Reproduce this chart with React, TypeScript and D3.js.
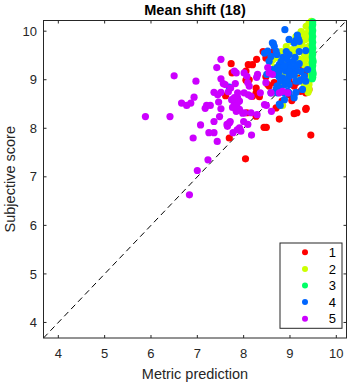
import React from "react";
import * as d3 from "d3";

const title = "Mean shift (18)";
const xLabel = "Metric prediction";
const yLabel = "Subjective score";
const ticks = [4, 5, 6, 7, 8, 9, 10];
const axisMin = 3.68;
const axisMax = 10.22;
const groupNames = ["1", "2", "3", "4", "5"];
const groupColors = ["#ff0000", "#ccff00", "#00ff66", "#0066ff", "#cc00ff"];

const redX = [7.73,7.75,8.10,8.28,8.42,8.65,8.48,7.61,8.19,8.27,8.34,8.52,8.55,9.04,9.15,9.09,9.35,8.77,8.44,8.49,7.69,9.45,9.05,9.09,9.13,8.98,9.41,9.38,8.05,8.07,8.27,8.70,9.23,8.05,8.12,9.27,9.20,9.34,9.38,9.31,8.04,8.66,8.19,8.48,9.34,9.34,8.83,8.27,8.92,8.98,9.15];
const redY = [9.33,9.14,9.31,9.42,9.58,9.58,9.45,8.67,8.66,8.73,8.65,8.90,8.87,8.57,8.32,8.30,8.41,8.19,8.02,8.02,7.80,7.86,8.90,8.87,8.94,9.00,8.80,8.83,8.99,8.32,8.25,8.42,8.76,9.18,9.00,9.31,9.21,9.18,9.07,8.97,7.37,8.94,9.31,9.06,8.73,8.39,8.56,8.83,9.38,8.69,9.11];

const yellowX = [8.60,8.72,8.81,8.92,9.03,9.13,9.24,9.35,9.41,9.46,8.88,9.03,9.15,9.26,9.33,9.39,9.20,9.31,9.37,9.09,9.20,9.31,9.41,8.98,8.77,8.88,9.41,9.46,9.37,9.46,9.46,9.20,9.31,9.41,8.67,8.88,8.84,9.41,9.39,8.64,8.67,9.43,9.43,9.43,9.00,9.10,9.25,9.30,9.35,9.20,9.05,9.42,9.42,9.42];
const yellowY = [9.38,9.46,9.58,9.68,9.79,9.89,9.99,10.10,10.16,10.20,9.42,9.52,9.62,9.73,9.83,9.93,9.42,9.52,9.66,9.25,9.17,9.31,9.42,9.21,9.25,9.11,9.21,9.11,9.00,9.62,9.83,9.00,8.90,8.90,9.11,8.90,8.47,8.80,8.74,9.42,9.25,10.03,9.29,9.00,9.35,9.55,9.85,9.40,9.95,9.70,9.62,9.55,9.70,9.90];

const greenX = [9.49,9.49,9.48,9.49,9.48,9.49,9.48,9.49,9.48,9.49,9.48,9.49,9.48,9.49,9.48,9.49,9.48,9.49,9.48,9.49,9.48,9.50,9.50];
const greenY = [10.19,10.13,10.07,10.01,9.95,9.89,9.83,9.77,9.71,9.65,9.59,9.53,9.47,9.41,9.35,9.29,9.23,9.17,9.11,9.05,9.02,9.37,9.12];

const blueX = [8.89,8.64,8.70,8.92,7.69,9.16,9.13,9.18,9.34,8.77,8.79,8.73,8.70,9.13,9.27,8.95,8.88,9.23,9.34,8.80,8.95,8.90,9.20,8.72,8.80,8.59,8.73,8.98,8.98,9.09,9.20,8.62,8.66,8.45,8.52,8.59,8.77,8.84,8.91,8.98,9.05,9.13,8.98,8.84,8.70,8.62,8.91,9.13,9.31,9.38,8.72,8.85,8.98,9.11,9.20,8.81,8.94,9.07,9.20,8.72,8.88,9.03,9.15,8.77,8.98,9.09,8.77,8.55,8.50,9.24,8.98,9.09,8.88];
const blueY = [10.03,9.75,9.59,9.58,8.85,9.92,9.81,9.84,9.60,8.50,8.47,8.87,8.80,8.74,8.80,8.76,8.73,9.00,8.97,8.97,9.00,8.90,8.97,8.87,8.83,8.73,8.73,8.73,9.83,9.76,9.79,9.76,9.69,9.55,9.59,9.48,9.31,9.25,9.18,9.31,9.21,9.18,9.07,9.04,9.11,9.21,8.97,8.97,9.07,9.21,9.52,9.46,9.52,9.46,9.58,9.38,9.42,9.38,9.33,9.25,9.29,9.25,9.29,9.17,9.17,9.09,9.05,9.38,9.11,9.17,8.90,8.63,8.59];

const purpleX = [7.51,7.42,7.84,6.50,6.97,7.51,7.56,7.82,7.36,7.51,7.44,7.67,6.93,6.66,6.77,6.86,7.17,7.20,7.28,7.46,7.51,5.88,6.41,7.48,7.36,7.07,7.64,7.71,7.88,6.91,7.25,7.36,7.43,7.23,7.00,6.83,
  7.80,7.87,7.91,7.80,7.84,7.91,7.84,8.02,7.74,7.76,7.86,7.69,7.65,7.91,7.94,8.00,7.60,7.72,7.87,8.01,7.80,8.01,
  8.30,8.28,8.52,8.55,8.07,8.48,8.62,8.12,8.09,8.36,8.16,8.10,8.77,8.45,8.49,8.60,8.29,7.98,8.09,7.86,7.77,8.17,8.84,8.59,8.95,8.16];
const purpleY = [9.42,9.25,9.14,9.08,8.97,9.02,8.92,8.92,8.74,8.74,8.69,8.75,8.64,8.52,8.47,8.52,8.41,8.47,8.47,8.54,8.40,8.24,8.24,8.24,8.14,8.07,8.08,8.14,7.97,7.80,7.91,7.91,7.73,7.35,7.13,6.63,
  8.63,8.63,8.56,8.52,8.45,8.39,8.35,8.32,8.59,8.43,8.51,8.11,8.04,8.01,7.94,8.14,8.90,8.83,8.73,8.73,9.18,9.14,
  9.11,9.05,9.25,9.14,9.07,8.94,9.11,8.87,8.94,8.73,8.66,8.69,8.73,8.49,8.47,8.35,8.28,8.31,8.08,7.97,7.91,7.86,8.76,8.73,8.73,8.32];

const groupsX = [redX, yellowX, greenX, blueX, purpleX];
const groupsY = [redY, yellowY, greenY, blueY, purpleY];

const W = 351, H = 385;
const L = 43.5, R = 346.5, T = 20.5, B = 338;
const FONT = "'Liberation Sans', Arial, Helvetica, sans-serif";
const AX = "#262626";

export default function App() {
  const x = d3.scaleLinear().domain([axisMin, axisMax]).range([L, R]);
  const y = d3.scaleLinear().domain([axisMin, axisMax]).range([B, T]);
  const tl = 3;
  const legX = 280, legY = 243, legW = 62, legH = 85.3;
  return (
    <svg width={W} height={H} style={{ position: "absolute", left: 0, top: 0, background: "#fff" }} fontFamily={FONT}>
      <rect x={0} y={0} width={W} height={H} fill="#fff" />
      <line x1={x(axisMin)} y1={y(axisMin)} x2={x(axisMax)} y2={y(axisMax)} stroke="#000" strokeWidth={1} strokeDasharray="6,4" />
      {groupsX.map((gx, gi) =>
        gx.map((v, i) => (
          <circle key={gi + "-" + i} cx={x(v)} cy={y(groupsY[gi][i])} r={3.6} fill={groupColors[gi]} />
        ))
      )}
      <rect x={L} y={T} width={R - L} height={B - T} fill="none" stroke={AX} strokeWidth={1} />
      {ticks.map((t) => (
        <g key={"xt" + t}>
          <line x1={x(t)} x2={x(t)} y1={B} y2={B - tl} stroke={AX} />
          <line x1={x(t)} x2={x(t)} y1={T} y2={T + tl} stroke={AX} />
          <text x={x(t)} y={358} textAnchor="middle" fontSize={13} fill={AX}>{t}</text>
          <line y1={y(t)} y2={y(t)} x1={L} x2={L + tl} stroke={AX} />
          <line y1={y(t)} y2={y(t)} x1={R} x2={R - tl} stroke={AX} />
          <text x={37} y={y(t) + 4.6} textAnchor="end" fontSize={13} fill={AX}>{t}</text>
        </g>
      ))}
      <text x={(L + R) / 2} y={15} textAnchor="middle" fontSize={14.5} fontWeight="bold" fill="#000">{title}</text>
      <text x={(L + R) / 2} y={379} textAnchor="middle" fontSize={14.5} fill={AX}>{xLabel}</text>
      <text transform={`translate(15,${(T + B) / 2}) rotate(-90)`} textAnchor="middle" fontSize={14.5} fill={AX}>{yLabel}</text>
      <rect x={legX} y={legY} width={legW} height={legH} fill="#fff" stroke={AX} strokeWidth={1} />
      {groupNames.map((n, i) => (
        <g key={"lg" + n}>
          <circle cx={305} cy={252.3 + i * 16.6} r={3} fill={groupColors[i]} />
          <text x={336} y={252.3 + i * 16.6 + 4.6} textAnchor="end" fontSize={13} fill="#000">{n}</text>
        </g>
      ))}
    </svg>
  );
}
